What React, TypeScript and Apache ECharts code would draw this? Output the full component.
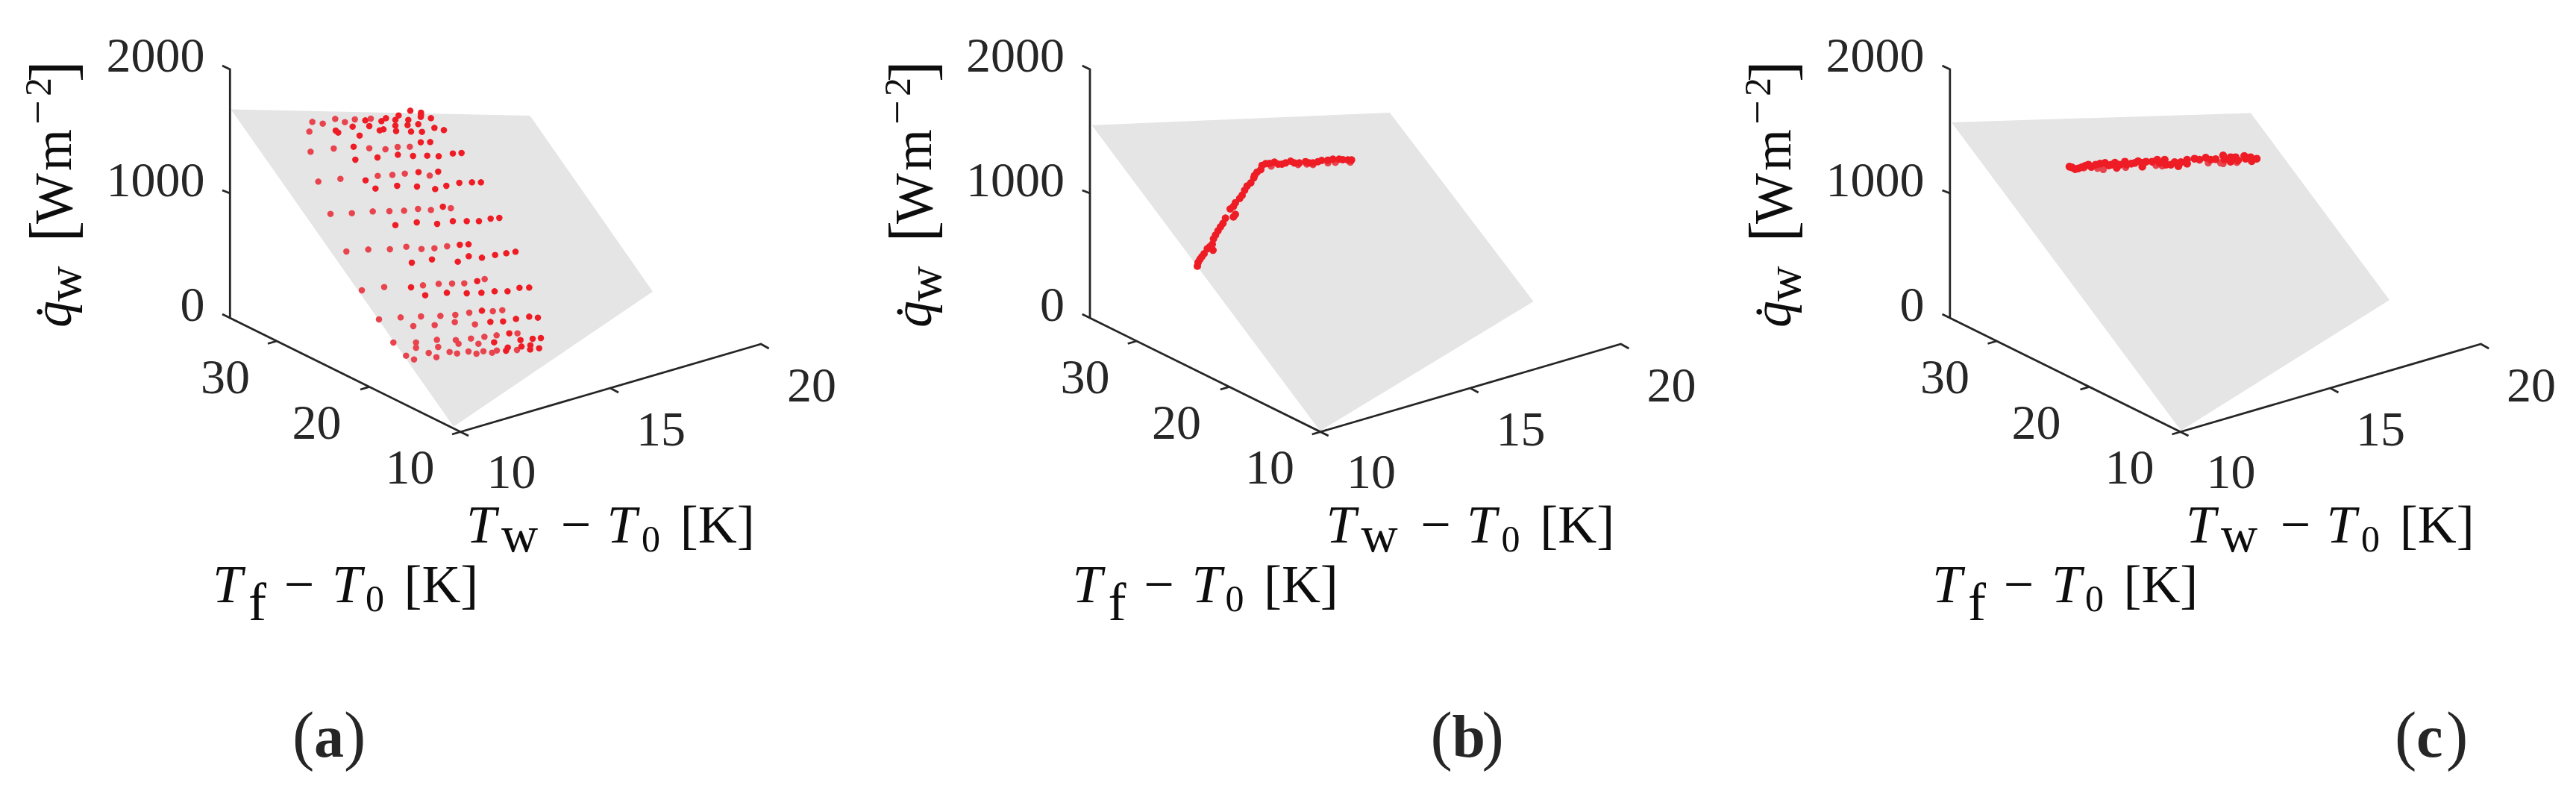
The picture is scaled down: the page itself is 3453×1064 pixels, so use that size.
import React, { useEffect, useRef } from "react";
import * as echarts from "echarts";

type Pt = [number, number];

const planeA: Pt[] = [[309.5, 146.5], [710.5, 155], [875, 390.7], [608, 571.7]];
const planeB: Pt[] = [[1463.5, 167.8], [1863, 151], [2055.6, 404], [1769.5, 577.5]];
const planeC: Pt[] = [[2616, 164], [3017, 151.4], [3203, 402], [2923.5, 577]];

const dotsAFront: Pt[] = [
  [750,55],[793,63],[793,72],[792,80],[703,74],[833,85],[652,85],[569,94],[634,97],[690,92],[742,92],[518,119],[585,117],[690,115],[739,113],[782,109],[847,124],[885,133],[450,135],[460,143],[546,155],[627,134],[642,130],[693,137],[753,139],[797,140],
  [792,182],[830,181],[529,252],[618,243],[700,232],[761,237],[818,236],[864,238],[921,227],[956,225],[522,200],
  [570,335],[783,302],[862,300],[610,368],[697,357],[777,360],[850,370],[895,357],[947,345],[998,343],[1034,343],
  [881,441],[690,515],[776,504],[858,510],[921,499],[977,499],[1026,499],[1073,489],[1108,486],
  [949,594],[984,592],[756,666],[837,653],[941,662],[985,640],[1038,646],[1091,635],[1136,628],[1173,622],
  [753,765],[1019,740],[810,797],[897,787],[977,789],[1036,787],[1089,781],[1141,781],[1189,767],[1228,766],
  [1038,859],[1072,904],[1123,902],[1175,892],[1228,883],[1263,887],
  [1148,950],[1193,977],[1242,972],[1275,969],[1142,1007],[1197,1003],[1233,998],[1135,1020],[1232,1015],[1268,1010],[1087,986],
];
const dotsABack: Pt[] = [
  [591,87],[527,90],[448,88],[356,100],[398,107],[487,101],[344,139],
  [349,220],[442,207],[585,206],[650,210],[699,201],[748,200],
  [380,340],[469,329],[619,317],[678,313],[728,308],[828,316],
  [429,470],[515,467],[599,460],[666,459],[725,457],[781,450],[833,454],[913,447],
  [493,621],[581,613],[668,612],[734,602],[795,611],[847,608],[898,600],
  [555,777],[645,764],[801,757],[864,751],[918,750],[967,749],[1049,732],
  [624,894],[711,886],[793,882],[871,880],[931,876],[987,867],[1082,861],[1120,857],[762,921],[848,917],[929,905],[1010,914],
  [682,987],[773,987],[857,976],[933,977],[944,992],[994,971],[1048,964],[1097,958],[1181,950],[1024,992],[773,1008],[862,1005],[733,1040],[765,1055],[824,1029],[855,1046],[908,1025],[938,1031],[984,1023],[1016,1032],[1044,1022],[1079,1028],[1098,1019],[1179,1017],
];
const curveBFront: Pt[] = [
  [165,560],[168,545],[175,533],[183,522],[192,510],[205,490],[228,496],[215,482],[225,472],[230,450],[238,435],[248,418],[258,402],[268,388],[278,367],[297,330],[310,320],[318,305],[335,288],[345,275],[355,255],[365,238],[380,225],[392,205],[395,195],[405,182],[420,172],[425,155],[440,148],[455,147],[475,142],[490,150],[505,150],[520,145],[540,138],[555,145],[575,145],[600,140],[615,145],[630,145],[650,140],[665,135],[690,134],[710,130],[735,130],[750,132],[770,133],[785,133],[310,362],[318,352],
];
const curveBBack: Pt[] = [[462,158],[570,152],[605,150],[630,152],[690,145],[720,143],[780,142]];
const curveCFront: Pt[] = [
  [42,100],[52,103],[65,110],[78,107],[92,102],[105,97],[118,92],[130,100],[148,92],[165,88],[185,85],[200,95],[210,92],[225,84],[232,105],[245,92],[265,80],[272,92],[290,88],[305,85],[318,78],[335,100],[335,85],[350,80],[375,80],[395,72],[405,85],[425,72],[430,92],[450,92],[465,82],[480,98],[490,82],[515,72],[515,88],[545,68],[565,72],[590,64],[610,72],[630,70],[660,55],[665,72],[690,62],[710,62],[690,80],[720,75],[745,57],[750,68],[775,78],[770,62],[795,68],
];
const curveCBack: Pt[] = [[100,105],[130,103],[155,107],[178,112],[268,103],[390,95],[415,97],[600,85],[650,85],[660,88],[715,83]];

const qTicks = ["2000", "1000", "0"];
const tfTicks = ["30", "20", "10"];
const twTicks = ["10", "15", "20"];
const captions = ["a", "b", "c"];

const RED = "#EE1C25";
const RED_BACK = "#E8444E";
const GREY = "#E5E5E5";
const INK = "#262626";
const BLACK = "#0d0d0d";
const SERIF = '"Liberation Serif"';
const CENTRAL = 0.29;

const crop = (ox: number, oy: number, pts: Pt[]): Pt[] => pts.map(([x, y]) => [ox + x / 3, oy + y / 3]);

function txt(text: string, x: number, base: number, size: number, o: any = {}) {
  return {
    type: "text", x, y: base - CENTRAL * size, silent: true,
    style: {
      text, fill: o.fill || BLACK, fontFamily: SERIF, fontSize: size,
      fontStyle: o.italic ? "italic" : "normal", fontWeight: o.bold ? "bold" : "normal",
      textAlign: o.align || "left", align: o.align || "left",
      textVerticalAlign: "middle", verticalAlign: "middle",
    },
  };
}
function vtxt(text: string, base: number, y: number, size: number, o: any = {}) {
  return { ...txt(text, base - CENTRAL * size, 0, size, o), y, rotation: Math.PI / 2 };
}

function panelText(dx: number, capDx: number, caption: string) {
  const e: any[] = [];
  [93, 260, 427].forEach((b, i) => e.push(txt(qTicks[i], 274.5 + dx, b, 66, { align: "right", fill: INK })));
  ([[302, 524], [424.5, 585], [549.5, 645]] as Pt[]).forEach(([x, b], i) => e.push(txt(tfTicks[i], x + dx, b, 66, { align: "center", fill: INK })));
  ([[685.6, 651], [886, 593.5], [1088, 535]] as Pt[]).forEach(([x, b], i) => e.push(txt(twTicks[i], x + dx, b, 66, { align: "center", fill: INK })));
  // Vertical label
  e.push(vtxt("q\u0307", 92 + dx, 439, 72, { italic: true }));
  e.push(vtxt("w", 105 + dx, 404, 66));
  e.push(vtxt("[", 94.5 + dx, 324.6, 86));
  e.push(vtxt("W", 93 + dx, 300, 72));
  e.push(vtxt("m", 92 + dx, 229, 72));
  e.push(vtxt("\u2212", 67 + dx, 167, 58));
  e.push(vtxt("2", 65 + dx, 129, 50));
  e.push(vtxt("]", 94.5 + dx, 110, 86));
  // Tw - T0 [K]
  e.push(txt("T", 625 + dx, 724, 72, { italic: true }));
  e.push(txt("w", 672 + dx, 736, 68));
  e.push(txt("\u2212", 772 + dx, 724, 72, { align: "center" }));
  e.push(txt("T", 813.5 + dx, 724, 72, { italic: true }));
  e.push(txt("0", 860 + dx, 736, 50));
  e.push(txt("[K]", 911.7 + dx, 724, 72));
  // Tf - T0 [K]
  e.push(txt("T", 285 + dx, 804, 72, { italic: true }));
  e.push(txt("f", 333 + dx, 828, 72));
  e.push(txt("\u2212", 401 + dx, 804, 72, { align: "center" }));
  e.push(txt("T", 445 + dx, 804, 72, { italic: true }));
  e.push(txt("0", 490 + dx, 816, 50));
  e.push(txt("[K]", 541.4 + dx, 804, 72));
  // Caption
  e.push(txt("(", 392 + capDx, 1011, 88, { fill: INK }));
  e.push(txt(caption, 421 + capDx, 1010, 80, { bold: true, fill: INK }));
  e.push(txt(")", 461 + capDx, 1011, 88, { fill: INK }));
  return e;
}

function axisLines(dx: number) {
  const polys: Pt[][] = [
    [[298, 88], [308.3, 93], [308.3, 426]],
    [[298, 421], [628, 584]],
    [[606, 582], [1020, 461], [1030.7, 467]],
    [[298, 255], [308.3, 259]],
    [[359, 460.5], [371, 457]],
    [[483, 522], [495, 518.3]],
    [[818, 520], [829, 526]],
  ];
  return polys.map((p) => ({
    type: "line", data: p.map(([x, y]) => [x + dx, y]), showSymbol: false, silent: true, z: 5,
    lineStyle: { color: INK, width: 2.8, cap: "butt", join: "miter" }, animation: false,
  }));
}

function plane(pts: Pt[]) {
  return {
    type: "custom", silent: true, z: 1, data: [0], animation: false,
    renderItem: (_: any, api: any) => ({
      type: "polygon",
      shape: { points: pts.map((p) => api.coord(p)) },
      style: { fill: GREY },
    }),
  };
}

function dots(pts: Pt[], color: string, size: number, z: number) {
  return {
    type: "scatter", data: pts, symbol: "circle", symbolSize: size, silent: true, z,
    itemStyle: { color, opacity: 1 }, animation: false,
  };
}

export default function App() {
  const ref = useRef<HTMLDivElement>(null);
  useEffect(() => {
    if (!ref.current) return;
    const chart = echarts.init(ref.current, undefined, { renderer: "svg" });
    chart.setOption({
      animation: false,
      backgroundColor: "#ffffff",
      grid: { left: 0, right: 0, top: 0, bottom: 0 },
      xAxis: { type: "value", min: 0, max: 3453, show: false },
      yAxis: { type: "value", min: 0, max: 1064, inverse: true, show: false },
      series: [
        plane(planeA), plane(planeB), plane(planeC),
        dots(crop(300, 130, dotsABack), RED_BACK, 8.5, 3),
        dots(crop(300, 130, dotsAFront), RED, 8.5, 4),
        dots(crop(1550, 170, curveBBack), RED_BACK, 9.5, 3),
        dots(crop(1550, 170, curveBFront), RED, 10, 4),
        dots(crop(2760, 190, curveCBack), RED_BACK, 9.5, 3),
        dots(crop(2760, 190, curveCFront), RED, 10.5, 4),
        ...axisLines(0), ...axisLines(1152.7), ...axisLines(2305.5),
      ],
      graphic: [
        ...panelText(0, 0, captions[0]),
        ...panelText(1152.5, 1525.6, captions[1]),
        ...panelText(2305, 2818, captions[2]),
      ],
    });
    return () => chart.dispose();
  }, []);
  return <div ref={ref} style={{ position: "absolute", left: 0, top: 0, width: 3453, height: 1064 }} />;
}
